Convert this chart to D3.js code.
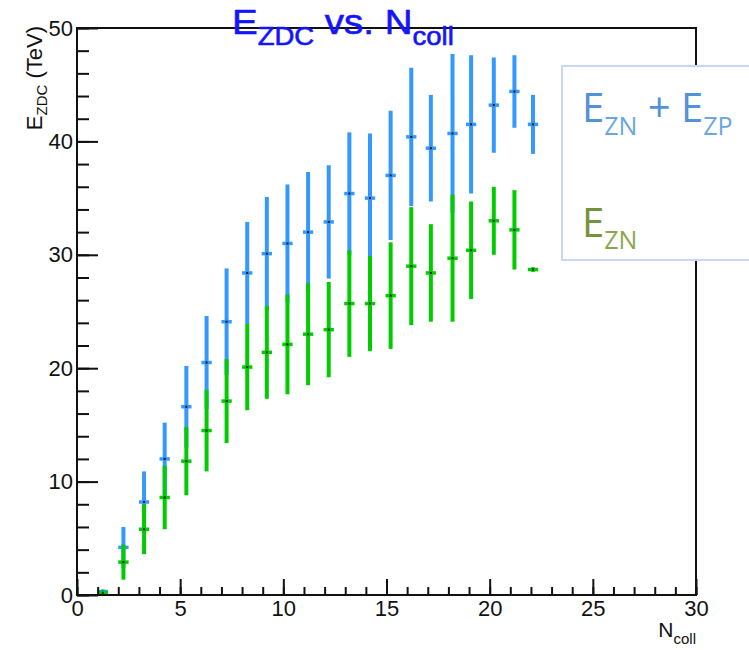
<!DOCTYPE html>
<html>
<head>
<meta charset="utf-8">
<script src="https://cdn.jsdelivr.net/npm/d3@7"></script>
<style>
  body { margin: 0; background: #fff; }
  svg { display: block; }
</style>
</head>
<body>
<div class="js-vis"></div>
<script>
// N_coll bin means
const ncoll = [1.25, 2.25, 3.25, 4.25, 5.3, 6.28, 7.25, 8.25, 9.2, 10.2, 11.2,
  12.2, 13.2, 14.2, 15.2, 16.2, 17.15, 18.2, 19.1, 20.2, 21.2, 22.1]

// E_ZN + E_ZP
const ezdc = [0.3, 4.2, 8.2, 12.0, 16.6, 20.5, 24.1, 28.4, 30.1, 31.0, 32.0,
  32.9, 35.4, 35.0, 37.0, 40.4, 39.4, 40.7, 41.5, 43.2, 44.4, 41.5]
const ezdcErr = [0.2, 1.8, 2.7, 3.2, 3.6, 4.1, 4.7, 4.5, 5.0, 5.2, 5.3,
  5.0, 5.4, 5.7, 5.7, 6.1, 4.7, 7.0, 6.1, 4.2, 3.2, 2.6]

// E_ZN
const ezn = [0.2, 2.9, 5.8, 8.6, 11.8, 14.5, 17.1, 20.1, 21.4, 22.1, 23.0,
  23.4, 25.7, 25.7, 26.4, 29.0, 28.4, 29.7, 30.4, 33.0, 32.2, 28.7]
const eznErr = [0.2, 1.55, 2.2, 2.8, 3.0, 3.6, 3.7, 3.8, 4.1, 4.4, 4.5,
  4.2, 4.7, 4.2, 4.7, 5.2, 4.3, 5.6, 4.3, 3.0, 3.5, 0.2]

const xErr = 0.25

const xTicks = [0, 5, 10, 15, 20, 25, 30],
    yTicks = [0, 10, 20, 30, 40, 50]

const ewidth = 749, eheight = 650
const margin = { top: 28, right: 53, bottom: 55, left: 77 },
    width = ewidth - margin.left - margin.right,
    height = eheight - margin.top - margin.bottom

const x = d3.scaleLinear().domain([0, 30]).range([0, width])
const y = d3.scaleLinear().domain([0, 50]).range([height, 0])

const svg = d3.select(".js-vis").append("svg")
  .attr("width", ewidth)
  .attr("height", eheight)
  .style("font-family", "'Liberation Sans', Arial, sans-serif")

svg.append("rect").attr("width", ewidth).attr("height", eheight).attr("fill", "#fff")

const vis = svg.append("g")
  .attr("transform", "translate(" + margin.left + "," + margin.top + ")")

// series: blue under green
const series = [
  { mean: ezdc, err: ezdcErr, color: "#3399ff" },
  { mean: ezn, err: eznErr, color: "#00cc00" }
]

series.forEach(s => {
  const g = vis.append("g")
  const pts = ncoll.map((n, i) => ({ n: n, m: s.mean[i], e: s.err[i] }))
  g.selectAll(".ebar")
    .data(pts)
  .enter().append("line")
    .attr("x1", d => x(d.n)).attr("x2", d => x(d.n))
    .attr("y1", d => y(d.m - d.e)).attr("y2", d => y(d.m + d.e))
    .attr("stroke", s.color).attr("stroke-width", 4)
  g.selectAll(".xbar")
    .data(pts)
  .enter().append("line")
    .attr("x1", d => x(d.n - xErr)).attr("x2", d => x(d.n + xErr))
    .attr("y1", d => y(d.m)).attr("y2", d => y(d.m))
    .attr("stroke", s.color).attr("stroke-width", 3.5)
  g.selectAll(".dot")
    .data(pts)
  .enter().append("rect")
    .attr("x", d => x(d.n) - 1).attr("y", d => y(d.m) - 1)
    .attr("width", 2).attr("height", 2)
    .attr("fill", "#111")
})

// frame
vis.append("rect")
  .attr("width", width).attr("height", height)
  .attr("fill", "none").attr("stroke", "#111").attr("stroke-width", 2)

// axes, ticks inward
vis.append("g")
  .call(d3.axisLeft(y).tickValues(d3.range(0, 51, 2)).tickSize(-12).tickFormat(""))
vis.append("g")
  .call(d3.axisLeft(y).tickValues(yTicks).tickSize(-21).tickPadding(4))
vis.append("g")
  .attr("transform", "translate(0," + height + ")")
  .call(d3.axisBottom(x).tickValues(d3.range(0, 31, 1)).tickSize(-8).tickFormat(""))
vis.append("g")
  .attr("transform", "translate(0," + height + ")")
  .call(d3.axisBottom(x).tickValues(xTicks).tickSize(-16).tickPadding(5))

vis.selectAll(".domain").remove()
vis.selectAll(".tick line").attr("stroke", "#111").attr("stroke-width", 2)
vis.selectAll(".tick text")
  .style("font-family", "'Liberation Sans', Arial, sans-serif")
  .style("font-size", "22px").attr("fill", "#111")

// title, a bit wider as in the source picture
const title = svg.append("text")
  .attr("transform", "translate(232,34) scale(1.1,1)")
  .attr("fill", "#1414ff").attr("stroke", "#1414ff").attr("stroke-width", 0.6)
  .style("font-size", "35px")
title.append("tspan").text("E")
title.append("tspan").attr("dy", 11).style("font-size", "25px").text("ZDC")
title.append("tspan").attr("dy", -11).text(" vs. N")
title.append("tspan").attr("dy", 11).style("font-size", "25px").text("coll")

// y title
const ytitle = svg.append("text")
  .attr("transform", "translate(42,26) rotate(-90)")
  .attr("text-anchor", "end").attr("fill", "#111")
  .style("font-size", "22px")
ytitle.append("tspan").text("E")
ytitle.append("tspan").attr("dy", 5).style("font-size", "15px").text("ZDC")
ytitle.append("tspan").attr("dy", -5).text(" (TeV)")

// x title
const xtitle = svg.append("text")
  .attr("x", 696).attr("y", 637)
  .attr("text-anchor", "end").attr("fill", "#111")
  .style("font-size", "21px")
xtitle.append("tspan").text("N")
xtitle.append("tspan").attr("dy", 7).style("font-size", "15px").text("coll")

// legend box
svg.append("rect")
  .attr("x", 562).attr("y", 66).attr("width", 200).attr("height", 194)
  .attr("fill", "#fff").attr("stroke", "#c6d9f1").attr("stroke-width", 2)

const leg1 = svg.append("text")
  .attr("x", 582).attr("y", 122).attr("fill", "#5591d6")
  .style("font-family", "'Open Sans', sans-serif").style("font-size", "40px")
leg1.append("tspan").text("E")
leg1.append("tspan").attr("dy", 13).attr("fill", "#6aa6e2").style("font-size", "25px").text("ZN")
leg1.append("tspan").attr("dy", -13).text(" + E")
leg1.append("tspan").attr("dy", 13).attr("fill", "#6aa6e2").style("font-size", "25px").text("ZP")

const leg2 = svg.append("text")
  .attr("x", 582).attr("y", 237).attr("fill", "#76923c")
  .style("font-family", "'Open Sans', sans-serif").style("font-size", "40px")
leg2.append("tspan").text("E")
leg2.append("tspan").attr("dy", 12).attr("fill", "#8aa74c").style("font-size", "25px").text("ZN")
</script>
</body>
</html>
